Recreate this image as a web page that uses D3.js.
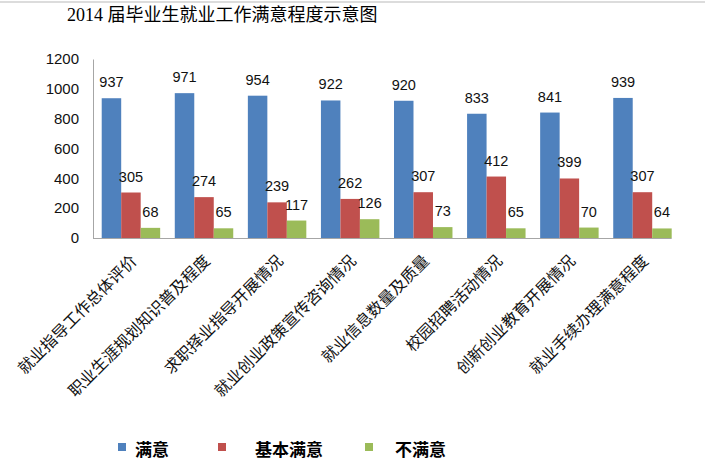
<!DOCTYPE html>
<html>
<head>
<meta charset="utf-8">
<script src="https://cdn.jsdelivr.net/npm/d3@7/dist/d3.min.js"></script>
<style>
  html, body { margin: 0; padding: 0; background: #fff; }
  svg { display: block; }
</style>
</head>
<body>
<svg id="chart" width="705" height="464"></svg>
<script>
const categories = ["就业指导工作总体评价", "职业生涯规划知识普及程度", "求职择业指导开展情况", "就业创业政策宣传咨询情况", "就业信息数量及质量", "校园招聘活动情况", "创新创业教育开展情况", "就业手续办理满意程度"];
const seriesNames = ["满意", "基本满意", "不满意"];
const satisfied = [937, 971, 954, 922, 920, 833, 841, 939];
const basic = [305, 274, 239, 262, 307, 412, 399, 307];
const unsatisfied = [68, 65, 117, 126, 73, 65, 70, 64];
const yTicks = [0, 200, 400, 600, 800, 1000, 1200];
const titleText = "2014 届毕业生就业工作满意程度示意图";
const colors = ["#4F81BD", "#C0504D", "#9BBB59"];

const series = [satisfied, basic, unsatisfied];
const svg = d3.select("#chart");

// top border line
svg.append("rect").attr("x", 0).attr("y", 1).attr("width", 705).attr("height", 2).attr("fill", "#dcdcdc");

// title
svg.append("text")
  .attr("x", 67).attr("y", 21)
  .style("font-family", "'Liberation Serif', 'Noto Sans CJK SC', serif")
  .style("font-size", "18px")
  .attr("fill", "#000")
  .text(titleText);

const axisX = 93;
const y = d3.scaleLinear().domain([0, 1200]).range([238, 59]);
const x0 = d3.scaleBand().domain(categories).range([94.4, 679]).paddingInner(0.2).paddingOuter(0.1);
const x1 = d3.scaleBand().domain(d3.range(seriesNames.length)).range([0, x0.bandwidth()]);

// y axis
const yAxis = d3.axisLeft(y).tickValues(yTicks).tickSize(0).tickPadding(14).tickFormat(d3.format("d"));
const gY = svg.append("g").attr("transform", `translate(${axisX},0)`).call(yAxis);
gY.select(".domain").attr("stroke", "#a6a6a6");
gY.selectAll("text")
  .style("font-family", "'Liberation Sans', Arial, sans-serif")
  .style("font-size", "15px")
  .attr("fill", "#111");

// bars
const groups = svg.append("g").selectAll("g")
  .data(categories)
  .join("g")
  .attr("transform", d => `translate(${x0(d)},0)`);

groups.selectAll("rect")
  .data((d, i) => series.map((s, k) => ({ k, v: s[i] })))
  .join("rect")
  .attr("x", d => x1(d.k))
  .attr("width", x1.bandwidth())
  .attr("y", d => y(d.v))
  .attr("height", d => y(0) - y(d.v))
  .attr("fill", d => colors[d.k]);

groups.selectAll("text.val")
  .data((d, i) => series.map((s, k) => ({ k, v: s[i] })))
  .join("text")
  .attr("class", "val")
  .attr("x", d => x1(d.k) + x1.bandwidth() / 2)
  .attr("y", d => y(d.v) - 11)
  .attr("text-anchor", "middle")
  .style("font-family", "'Liberation Sans', Arial, sans-serif")
  .style("font-size", "14.5px")
  .attr("fill", "#111")
  .text(d => d.v);

// x axis line
const lastCat = categories[categories.length - 1];
svg.append("line")
  .attr("x1", axisX).attr("x2", x0(lastCat) + x0.bandwidth())
  .attr("y1", y(0) + 0.5).attr("y2", y(0) + 0.5)
  .attr("stroke", "#a6a6a6");

// x labels
svg.append("g").selectAll("text")
  .data(categories)
  .join("text")
  .attr("transform", d => `translate(${x0(d) + x0.bandwidth() / 2 + 2},257) rotate(-45)`)
  .attr("text-anchor", "end")
  .attr("dominant-baseline", "central")
  .style("font-family", "'Noto Sans CJK SC', sans-serif")
  .style("font-size", "16px")
  .attr("fill", "#111")
  .text(d => d);

// legend
const legendSquareX = [118, 218, 365];
const legendTextX = [135, 255, 395];
const legend = svg.append("g");
seriesNames.forEach((name, k) => {
  legend.append("rect")
    .attr("x", legendSquareX[k]).attr("y", 443)
    .attr("width", 8).attr("height", 8)
    .attr("fill", colors[k]);
  legend.append("text")
    .attr("x", legendTextX[k]).attr("y", 455.5)
    .style("font-family", "'Noto Sans CJK SC', sans-serif")
    .style("font-size", "17px")
    .style("font-weight", "bold")
    .attr("fill", "#000")
    .text(name);
});
</script>
</body>
</html>
